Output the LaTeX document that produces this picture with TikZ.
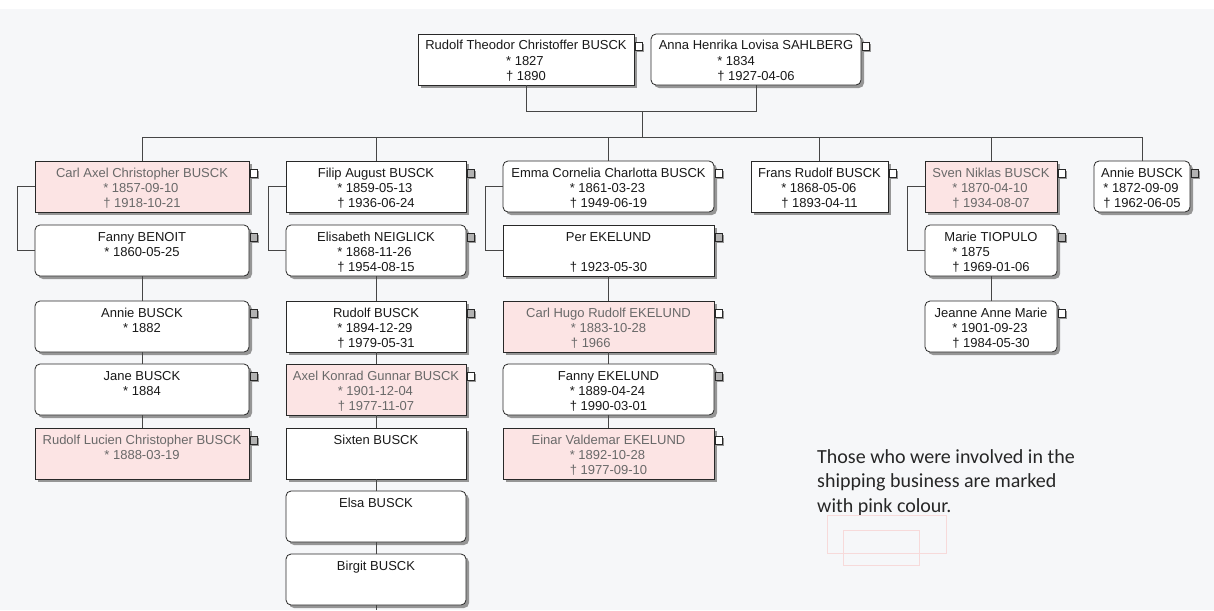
\documentclass[tikz,border=0pt]{standalone}
\usepackage{fontspec}
\setmainfont{Liberation Sans}
\newfontfamily\notefont{Carlito}
\usetikzlibrary{shadows}
\definecolor{bg}{RGB}{246,247,249}
\definecolor{pinkfill}{RGB}{252,228,228}
\definecolor{pinktext}{RGB}{105,105,105}
\definecolor{edgec}{RGB}{40,40,40}
\definecolor{wirec}{RGB}{70,70,70}
\definecolor{shadowc}{RGB}{150,150,150}
\definecolor{faintpink}{RGB}{247,218,218}
\tikzset{
  person/.style={draw=edgec, line width=0.8pt, fill=white, inner sep=0pt, outer sep=0pt,
    anchor=north west, font=\fontsize{13}{15}\selectfont, text=black!90,
    general shadow={shadow xshift=3pt, shadow yshift=-3pt, fill=shadowc}},
  male/.style={person, sharp corners},
  female/.style={person, rounded corners=5pt},
  shipping/.style={fill=pinkfill, text=pinktext},
  wire/.style={draw=wirec, line width=0.8pt},
  toggle/.style={draw=edgec, line width=0.6pt, minimum width=7pt, minimum height=8pt,
    inner sep=0pt, outer sep=0pt, anchor=north west, sharp corners,
    general shadow={shadow xshift=2pt, shadow yshift=-2pt, fill=shadowc}},
  togw/.style={toggle, fill=white},
  togg/.style={toggle, fill=black!30},
}
\newcommand\pers[6]{%
  \node[#1, minimum width=#5pt, minimum height=51pt] (#2) at (#3,#4)
    {\parbox[c][51pt][t]{#5pt}{\centering\rule{0pt}{16pt}#6}};}
\newcommand\tog[2]{\node[#1] (#2-t) at ([xshift=1pt,yshift=-8pt]#2.north east) {};}
\newcommand\dts[2]{\begin{tabular}[t]{@{}l@{}}#1\\#2\end{tabular}}
\newcommand\one[1]{\mbox{#1}}
\begin{document}
\begin{tikzpicture}[x=1pt,y=-1pt]
\useasboundingbox (0,0) rectangle (1214,610);
\fill[white] (0,0) rectangle (1214,610);
\fill[bg] (0,9) rectangle (1214,610);

% parents
\pers{male}{rt}{418}{34}{216}{Rudolf Theodor Christoffer BUSCK\\\dts{* 1827}{† 1890}}
\pers{female}{an}{651}{34}{210}{Anna Henrika Lovisa SAHLBERG\\\dts{* 1834}{† 1927-04-06}}

% column 1
\pers{male,shipping}{carl}{35}{161}{214}{Carl Axel Christopher BUSCK\\\dts{* 1857-09-10}{† 1918-10-21}}
\pers{female}{fanny}{35}{225}{214}{Fanny BENOIT\\\one{* 1860-05-25}}
\pers{female}{annieb}{35}{301}{214}{Annie BUSCK\\\one{* 1882}}
\pers{female}{jane}{35}{364}{214}{Jane BUSCK\\\one{* 1884}}
\pers{male,shipping}{rudl}{35}{428}{214}{Rudolf Lucien Christopher BUSCK\\\one{* 1888-03-19}}

% column 2
\pers{male}{filip}{286}{161}{180}{Filip August BUSCK\\\dts{* 1859-05-13}{† 1936-06-24}}
\pers{female}{elis}{286}{225}{180}{Elisabeth NEIGLICK\\\dts{* 1868-11-26}{† 1954-08-15}}
\pers{male}{rudb}{286}{301}{180}{Rudolf BUSCK\\\dts{* 1894-12-29}{† 1979-05-31}}
\pers{male,shipping}{axel}{286}{364}{180}{Axel Konrad Gunnar BUSCK\\\dts{* 1901-12-04}{† 1977-11-07}}
\pers{male}{sixten}{286}{428}{180}{Sixten BUSCK}
\pers{female}{elsa}{286}{491}{180}{Elsa BUSCK}
\pers{female}{birgit}{286}{554}{180}{Birgit BUSCK}

% column 3
\pers{female}{emma}{503}{161}{211}{Emma Cornelia Charlotta BUSCK\\\dts{* 1861-03-23}{† 1949-06-19}}
\pers{male}{per}{503}{225}{211}{Per EKELUND\\\dts{}{† 1923-05-30}}
\pers{male,shipping}{hugo}{503}{301}{211}{Carl Hugo Rudolf EKELUND\\\dts{* 1883-10-28}{† 1966}}
\pers{female}{fannye}{503}{364}{211}{Fanny EKELUND\\\dts{* 1889-04-24}{† 1990-03-01}}
\pers{male,shipping}{einar}{503}{428}{211}{Einar Valdemar EKELUND\\\dts{* 1892-10-28}{† 1977-09-10}}

% other children
\pers{male}{frans}{751}{161}{137}{Frans Rudolf BUSCK\\\dts{* 1868-05-06}{† 1893-04-11}}
\pers{male,shipping}{sven}{925}{161}{132}{Sven Niklas BUSCK\\\dts{* 1870-04-10}{† 1934-08-07}}
\pers{female}{marie}{925}{225}{132}{Marie TIOPULO\\\dts{* 1875}{† 1969-01-06}}
\pers{female}{jeanne}{925}{301}{132}{Jeanne Anne Marie\\\dts{* 1901-09-23}{† 1984-05-30}}
\pers{female}{anniec}{1094}{161}{96}{Annie BUSCK\\\dts{* 1872-09-09}{† 1962-06-05}}

% toggles
\tog{togw}{rt}\tog{togw}{an}
\tog{togw}{carl}\tog{togg}{fanny}\tog{togg}{annieb}\tog{togg}{jane}\tog{togg}{rudl}
\tog{togg}{filip}\tog{togg}{elis}\tog{togg}{rudb}\tog{togw}{axel}
\tog{togw}{emma}\tog{togg}{per}\tog{togw}{hugo}\tog{togg}{fannye}\tog{togw}{einar}
\tog{togw}{frans}\tog{togw}{sven}\tog{togg}{marie}\tog{togw}{jeanne}\tog{togg}{anniec}

% connectors
\coordinate (cpl) at (642,111);
\coordinate (bar) at (642,137);
\draw[wire] (rt.south) |- (cpl);
\draw[wire] (an.south) |- (cpl);
\draw[wire] (cpl) -- (bar);
\foreach \c in {carl,filip,emma,frans,sven,anniec}
  \draw[wire] (\c.north) |- (bar);
\foreach \a/\b in {carl/fanny,filip/elis,emma/per,sven/marie}
  \draw[wire] (\a.west) -- ++(-18,0) |- (\b.west);
\foreach \a/\b in {fanny/annieb,annieb/jane,jane/rudl,elis/rudb,rudb/axel,axel/sixten,sixten/elsa,elsa/birgit,per/hugo,hugo/fannye,fannye/einar,marie/jeanne}
  \draw[wire] (\a.south) -- (\b.north);
\coordinate (bot) at (376,610);
\draw[wire] (birgit.south) -- (bot);

% note
\node[anchor=base west, inner sep=0pt, text=black!85, font=\notefont\fontsize{20}{24.5}\selectfont]
  (note) at (817,463) {\parbox[t]{320pt}{\raggedright Those who were involved in the\\shipping business are marked\\with pink colour.}};
\draw[faintpink, line width=0.5pt] (827,515) rectangle (946,553);
\draw[faintpink, line width=0.5pt] (843,530) rectangle (919,565);
\end{tikzpicture}
\end{document}
